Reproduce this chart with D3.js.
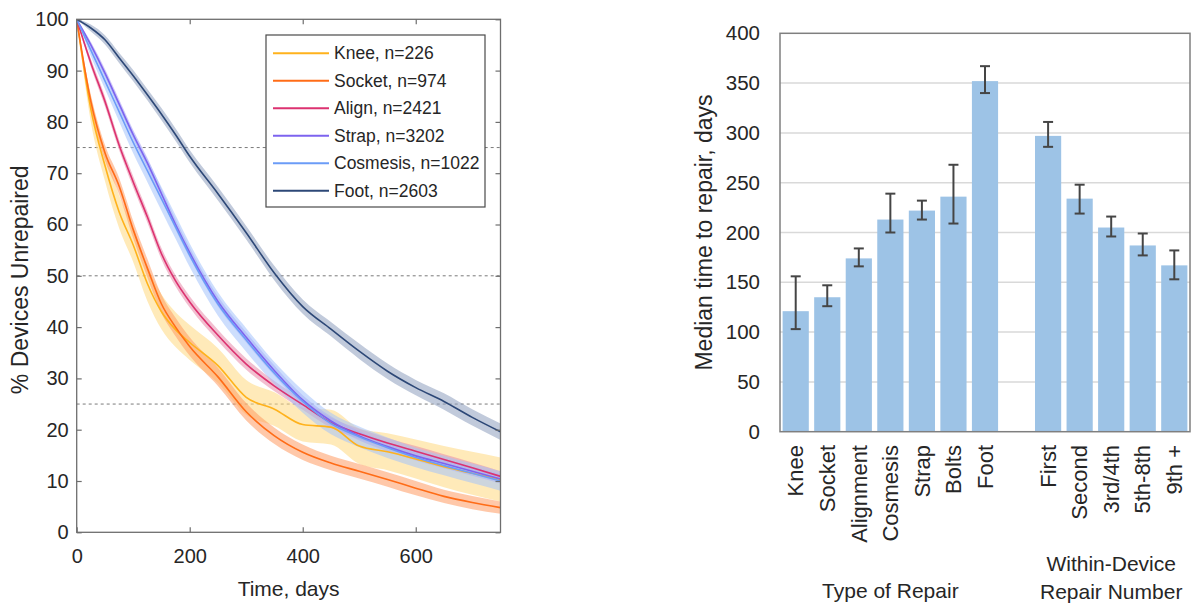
<!DOCTYPE html>
<html>
<head>
<meta charset="utf-8">
<script src="https://cdn.jsdelivr.net/npm/d3@7"></script>
<style>
body { margin: 0; background: #fff; }
text { font-family: Arial, "Liberation Sans", sans-serif; fill: #262626; }
</style>
</head>
<body>
<script>

// LEFT PANEL: Kaplan-Meier curves

var days = [0, 25, 50, 75, 100, 125, 150, 175, 200, 250, 300, 350, 400, 450, 500, 550, 600, 650, 700, 750];

var knee     = [100, 82.5, 71.5, 62.5, 56, 48.5, 43, 39.5, 37, 32.5, 26.3, 24, 21, 20.5, 16.8, 15.7, 14.3, 12.8, 11.5, 10.3];
var kneeErr  = [0, 2.5, 3, 3.2, 3.3, 3.4, 3.4, 3.4, 3.4, 3.4, 3.4, 3.3, 3.3, 3.4, 3.5, 3.6, 3.8, 4, 4.2, 4.3];
var socket   = [100, 84, 74, 67.5, 59, 51.5, 44.5, 40, 36.2, 30.3, 23.5, 18.8, 15.6, 13.5, 11.9, 10.3, 8.6, 7, 5.8, 4.8];
var socketErr= [0, 1.3, 1.5, 1.6, 1.7, 1.8, 1.8, 1.8, 1.8, 1.8, 1.7, 1.6, 1.5, 1.4, 1.4, 1.4, 1.4, 1.3, 1.3, 1.2];
var align    = [100, 91.5, 84, 75.5, 68.3, 61.5, 54.3, 49, 44.9, 38.4, 32.8, 28.5, 24.9, 21.4, 19.2, 17.4, 15.8, 14.2, 12.6, 10.9];
var alignErr = [0, 0.8, 1, 1, 1.1, 1.1, 1.1, 1.1, 1.1, 1.1, 1.1, 1, 1, 1, 1, 1, 1, 1, 1, 1];
var strap    = [100, 95, 89.5, 83.5, 77.5, 72, 66, 60, 54.5, 45, 38, 31.5, 25.8, 21.7, 18.8, 16.7, 14.9, 13.4, 11.9, 10.4];
var strapErr = [0, 0.6, 0.8, 0.9, 0.9, 1, 1, 1, 1, 1, 1, 1, 0.9, 0.9, 0.9, 0.9, 0.9, 0.9, 0.9, 0.9];
var cosmesis = [100, 94, 88, 82, 76, 70.5, 65, 59.5, 54, 44.5, 37.5, 31, 25.5, 21.2, 18.6, 16.5, 14.6, 13, 11.5, 10];
var cosmesisErr = [0, 1.2, 1.6, 1.9, 2.1, 2.2, 2.3, 2.3, 2.3, 2.3, 2.3, 2.2, 2.2, 2.1, 2, 2, 1.9, 1.9, 1.9, 1.9];
var foot     = [100, 98.3, 96, 92.5, 89, 85.3, 81.5, 77.5, 73.3, 66, 58.4, 50.5, 44, 39.6, 35.3, 31.4, 28.2, 25.5, 22.4, 19.6];
var footErr  = [0, 0.7, 0.9, 1, 1.1, 1.1, 1.2, 1.2, 1.2, 1.3, 1.3, 1.4, 1.4, 1.4, 1.5, 1.5, 1.5, 1.6, 1.6, 1.6];

var legendNames = ["Knee, n=226", "Socket, n=974", "Align, n=2421", "Strap, n=3202", "Cosmesis, n=1022", "Foot, n=2603"];
var lineColors  = ["#ffb21c", "#ff6c17", "#dc3270", "#7d63ef", "#6b9cf7", "#2d4877"];
var bandColors  = ["#ffd880", "#ff9b62", "#e88aaa", "#a99af2", "#a4c2fb", "#8e9fbd"];
var survival = [knee, socket, align, strap, cosmesis, foot];
var survivalErr = [kneeErr, socketErr, alignErr, strapErr, cosmesisErr, footErr];

var quartiles = [25, 50, 75];

// RIGHT PANEL: median time to repair with error bars

var repairTypes  = ["Knee", "Socket", "Alignment", "Cosmesis", "Strap", "Bolts", "Foot"];
var typeMedian   = [121, 135, 174, 213, 222, 236, 352];
var typeLow      = [103, 126, 166, 200, 213, 209, 340];
var typeHigh     = [156, 147, 184, 239, 232, 268, 367];
var repairNumbers = ["First", "Second", "3rd/4th", "5th-8th", "9th +"];
var numberMedian = [297, 234, 205, 187, 167];
var numberLow    = [286, 219, 196, 177, 153];
var numberHigh   = [311, 248, 216, 199, 182];

var svg = d3.select("body").append("svg")
    .attr("width", 1198)
    .attr("height", 605);

// ---------- left panel ----------

var x = d3.scaleLinear().domain([0, 750]).range([76.7, 500.5]);
var y = d3.scaleLinear().domain([0, 100]).range([532.3, 19.3]);

var left = svg.append("g");

left.append("clipPath").attr("id", "clipL")
  .append("rect")
    .attr("x", x(0)).attr("y", y(100))
    .attr("width", x(750) - x(0)).attr("height", y(0) - y(100));

// dashed quartile lines
left.selectAll(".q")
    .data(quartiles)
    .enter()
    .append("line")
    .attr("x1", x(0)).attr("x2", x(750))
    .attr("y1", function(d) { return y(d); })
    .attr("y2", function(d) { return y(d); })
    .attr("stroke", "#7a7a7a")
    .attr("stroke-width", 1)
    .attr("stroke-dasharray", "3,3");

var series = survival.map(function(vals, i) {
    return days.map(function(t, j) {
        return { t: t, v: vals[j], e: survivalErr[i][j] };
    });
});

var band = d3.area()
    .x(function(d) { return x(d.t); })
    .y0(function(d) { return y(d.v - d.e); })
    .y1(function(d) { return y(d.v + d.e); })
    .curve(d3.curveMonotoneX);

var line = d3.line()
    .x(function(d) { return x(d.t); })
    .y(function(d) { return y(d.v); })
    .curve(d3.curveMonotoneX);

var plotL = left.append("g").attr("clip-path", "url(#clipL)");

plotL.selectAll(".band")
    .data(series)
    .enter()
    .append("path")
    .attr("d", band)
    .attr("fill", function(d, i) { return bandColors[i]; })
    .attr("fill-opacity", 0.55);

plotL.selectAll(".km")
    .data(series)
    .enter()
    .append("path")
    .attr("d", line)
    .attr("fill", "none")
    .attr("stroke", function(d, i) { return lineColors[i]; })
    .attr("stroke-width", 1.6);

// axes, ticks pointing in
var xBottom = left.append("g")
    .attr("transform", "translate(0," + y(0) + ")")
    .call(d3.axisBottom(x).tickValues([0, 200, 400, 600]).tickSize(-5).tickPadding(17).tickSizeOuter(0));
var xTop = left.append("g")
    .attr("transform", "translate(0," + y(100) + ")")
    .call(d3.axisTop(x).tickValues([200, 400, 600]).tickSize(-5).tickSizeOuter(0).tickFormat(""));
var yLeft = left.append("g")
    .attr("transform", "translate(" + x(0) + ",0)")
    .call(d3.axisLeft(y).ticks(10).tickSize(-5).tickPadding(8).tickSizeOuter(0));
var yRight = left.append("g")
    .attr("transform", "translate(" + x(750) + ",0)")
    .call(d3.axisRight(y).ticks(10).tickSize(-5).tickSizeOuter(0).tickFormat(""));

[xBottom, xTop, yLeft, yRight].forEach(function(g) {
    g.select(".domain").remove();
    g.selectAll("line").attr("stroke", "#6e6e6e").attr("stroke-width", 1.2);
    g.selectAll("text").attr("font-size", "20px").attr("fill", "#262626")
        .style("font-family", "Arial, 'Liberation Sans', sans-serif");
});

left.append("rect")
    .attr("x", x(0)).attr("y", y(100))
    .attr("width", x(750) - x(0)).attr("height", y(0) - y(100))
    .attr("fill", "none")
    .attr("stroke", "#6e6e6e")
    .attr("stroke-width", 1.3);

left.append("text")
    .attr("x", (x(0) + x(750)) / 2)
    .attr("y", 596)
    .attr("text-anchor", "middle")
    .attr("font-size", "21px")
    .text("Time, days");

left.append("text")
    .attr("transform", "translate(28," + (y(50) + 4) + ") rotate(-90)")
    .attr("text-anchor", "middle")
    .attr("font-size", "23px")
    .text("% Devices Unrepaired");

// legend
var legend = left.append("g");
legend.append("rect")
    .attr("x", 266).attr("y", 35)
    .attr("width", 219).attr("height", 172)
    .attr("fill", "#fff")
    .attr("stroke", "#4a4a4a")
    .attr("stroke-width", 1.2);

var rows = legend.selectAll(".row")
    .data(legendNames)
    .enter()
    .append("g")
    .attr("transform", function(d, i) { return "translate(0," + (53.3 + i * 27.5) + ")"; });

rows.append("line")
    .attr("x1", 273).attr("x2", 329)
    .attr("stroke", function(d, i) { return lineColors[i]; })
    .attr("stroke-width", 2);

rows.append("text")
    .attr("x", 334)
    .attr("dy", "0.35em")
    .attr("font-size", "17.5px")
    .text(function(d) { return d; });

// ---------- right panel ----------

var slots = repairTypes.concat([" "], repairNumbers);
var bars = repairTypes.map(function(c, i) {
    return { name: c, med: typeMedian[i], lo: typeLow[i], hi: typeHigh[i] };
}).concat(repairNumbers.map(function(c, i) {
    return { name: c, med: numberMedian[i], lo: numberLow[i], hi: numberHigh[i] };
}));

var xb = d3.scaleBand().domain(slots).range([780, 1190]).paddingInner(0.17).paddingOuter(0.083);
var yb = d3.scaleLinear().domain([0, 400]).range([431.7, 33.3]);

var right = svg.append("g");

right.selectAll(".grid")
    .data(yb.ticks(8).filter(function(d) { return d > 0 && d < 400; }))
    .enter()
    .append("line")
    .attr("x1", 780).attr("x2", 1190)
    .attr("y1", function(d) { return yb(d); })
    .attr("y2", function(d) { return yb(d); })
    .attr("stroke", "#d9d9d9")
    .attr("stroke-width", 1.5);

right.selectAll(".bar")
    .data(bars)
    .enter()
    .append("rect")
    .attr("x", function(d) { return xb(d.name); })
    .attr("y", function(d) { return yb(d.med); })
    .attr("width", xb.bandwidth())
    .attr("height", function(d) { return yb(0) - yb(d.med); })
    .attr("fill", "#9dc3e6");

var err = right.selectAll(".err")
    .data(bars)
    .enter()
    .append("g")
    .attr("stroke", "#454545")
    .attr("stroke-width", 2);

err.append("line")
    .attr("x1", function(d) { return xb(d.name) + xb.bandwidth() / 2; })
    .attr("x2", function(d) { return xb(d.name) + xb.bandwidth() / 2; })
    .attr("y1", function(d) { return yb(d.lo); })
    .attr("y2", function(d) { return yb(d.hi); });
err.append("line")
    .attr("x1", function(d) { return xb(d.name) + xb.bandwidth() / 2 - 5; })
    .attr("x2", function(d) { return xb(d.name) + xb.bandwidth() / 2 + 5; })
    .attr("y1", function(d) { return yb(d.hi); })
    .attr("y2", function(d) { return yb(d.hi); });
err.append("line")
    .attr("x1", function(d) { return xb(d.name) + xb.bandwidth() / 2 - 5; })
    .attr("x2", function(d) { return xb(d.name) + xb.bandwidth() / 2 + 5; })
    .attr("y1", function(d) { return yb(d.lo); })
    .attr("y2", function(d) { return yb(d.lo); });

right.append("rect")
    .attr("x", 780).attr("y", yb(400))
    .attr("width", 410).attr("height", yb(0) - yb(400))
    .attr("fill", "none")
    .attr("stroke", "#7f7f7f")
    .attr("stroke-width", 1.5);

var yAxisB = right.append("g")
    .attr("transform", "translate(780,0)")
    .call(d3.axisLeft(yb).ticks(8).tickSize(0).tickPadding(20));
yAxisB.select(".domain").remove();
yAxisB.selectAll("text").attr("font-size", "20.5px").attr("fill", "#262626")
    .style("font-family", "Arial, 'Liberation Sans', sans-serif");

right.selectAll(".cat")
    .data(bars)
    .enter()
    .append("text")
    .attr("transform", function(d) {
        return "translate(" + (xb(d.name) + xb.bandwidth() / 2) + ",445) rotate(-90)";
    })
    .attr("text-anchor", "end")
    .attr("dy", "0.35em")
    .attr("font-size", "22px")
    .text(function(d) { return d.name; });

right.append("text")
    .attr("transform", "translate(712," + yb(200) + ") rotate(-90)")
    .attr("text-anchor", "middle")
    .attr("font-size", "23px")
    .text("Median time to repair, days");

var typeMid = (xb("Knee") + xb("Foot") + xb.bandwidth()) / 2;
var numMid = (xb("First") + xb("9th +") + xb.bandwidth()) / 2;

right.append("text")
    .attr("x", typeMid).attr("y", 598)
    .attr("text-anchor", "middle")
    .attr("font-size", "21px")
    .text("Type of Repair");

right.append("text")
    .attr("x", numMid).attr("y", 571)
    .attr("text-anchor", "middle")
    .attr("font-size", "21px")
    .text("Within-Device");

right.append("text")
    .attr("x", numMid).attr("y", 599)
    .attr("text-anchor", "middle")
    .attr("font-size", "21px")
    .text("Repair Number");

</script>
</body>
</html>
